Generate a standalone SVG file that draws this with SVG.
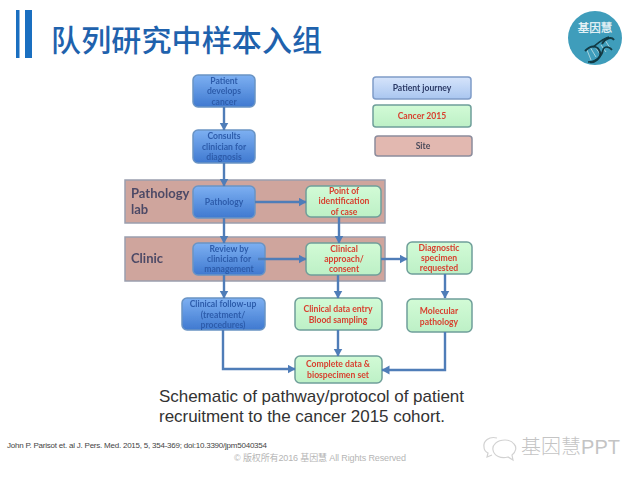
<svg xmlns="http://www.w3.org/2000/svg" width="640" height="480" viewBox="0 0 640 480">
<style>
text{font-family:"Liberation Sans","Noto Sans CJK SC",sans-serif}
.d text{font-family:"Lato","Noto Sans",sans-serif;font-size:8.6px;font-weight:700;text-anchor:middle}
.d .lab{font-size:13px;text-anchor:start;fill:#4d4a66}
.bt{fill:#2d5cab}.rt{fill:#d8402f}
.b{fill:url(#gb);stroke:#6a94c4;stroke-width:1.5}
.g{fill:url(#gg);stroke:#6f9f9a;stroke-width:1.5}
.band{fill:#cfa59d;stroke:#9a9fae;stroke-width:1.5}
.lk{fill:none;stroke:#4f7db8;stroke-width:2.4;marker-end:url(#ah)}
</style>
<defs>
<linearGradient id="gb" x1="0" y1="0" x2="0" y2="1"><stop offset="0" stop-color="#7db0f2"/><stop offset="1" stop-color="#3f79d0"/></linearGradient>
<linearGradient id="gg" x1="0" y1="0" x2="0" y2="1"><stop offset="0" stop-color="#d2fbd6"/><stop offset="1" stop-color="#bdf0c6"/></linearGradient>
<linearGradient id="gl" x1="0" y1="0" x2="0" y2="1"><stop offset="0" stop-color="#d6e4fb"/><stop offset="1" stop-color="#a9c6f0"/></linearGradient>
<marker id="ah" markerUnits="userSpaceOnUse" markerWidth="10" markerHeight="10" refX="7.5" refY="4.5" orient="auto"><path d="M0 0L8 4.5L0 9Z" fill="#4f7db8"/></marker>
<filter id="s" x="-5%" y="-5%" width="110%" height="110%"><feGaussianBlur stdDeviation="0.4"/></filter>
</defs>
<rect width="640" height="480" fill="#fff"/>
<g id="title">
<rect x="16" y="10" width="3.5" height="48" fill="#1a6fc0"/>
<rect x="25" y="10" width="7" height="48" fill="#1a6fc0"/>
<text x="51" y="51" font-size="30" font-weight="500" fill="#1f62ad" textLength="271" lengthAdjust="spacing">队列研究中样本入组</text>
</g>
<g id="logo">
<circle cx="595" cy="38" r="27" fill="#3f9dbb"/>
<text x="595" y="32" font-size="11.5" fill="#eef7fa" text-anchor="middle" stroke="#eef7fa" stroke-width=".25">基因慧</text>
<g fill="none" filter="url(#s)">
<path d="M587 50L591 60M590 47L596 57M594 45L600 54M601 45L606 52M605 40L610 48" stroke="#a9d3dc" stroke-width="1"/>
<path d="M585 51C592 44 598 46 600 52C602 58 594 63 590 62M602 44C606 37 612 37 614 40" stroke="#123a44" stroke-width="2"/>
<path d="M588 62C596 62 602 56 603 50C604 46 609 46 612 50M593 47C598 43 604 38 609 37" stroke="#123a44" stroke-width="1.6"/>
</g>
</g>
<g class="d" filter="url(#s)">
<g id="band-pathology"><rect class="band" x="125" y="180" width="260" height="43"/><text class="lab" x="131" y="198">Pathology</text><text class="lab" x="131" y="214">lab</text></g>
<g id="band-clinic"><rect class="band" x="125" y="237" width="260" height="44"/><text class="lab" x="131" y="263">Clinic</text></g>
<g id="n-patient"><rect class="b" x="193" y="75" width="62" height="32" rx="5"/><text class="bt" x="224" y="84">Patient</text><text class="bt" x="224" y="94">develops</text><text class="bt" x="224" y="105">cancer</text></g>
<g id="n-consults"><rect class="b" x="193" y="130" width="62" height="33" rx="5"/><text class="bt" x="224" y="139">Consults</text><text class="bt" x="224" y="150">clinician for</text><text class="bt" x="224" y="160">diagnosis</text></g>
<g id="n-pathology"><rect class="b" x="193" y="186" width="62" height="32" rx="5"/><text class="bt" x="224" y="205">Pathology</text></g>
<g id="n-point"><rect class="g" x="306" y="186" width="75" height="31" rx="5"/><text class="rt" x="344" y="194">Point of</text><text class="rt" x="344" y="204">identification</text><text class="rt" x="344" y="215">of case</text></g>
<g id="n-review"><rect class="b" x="193" y="243" width="72" height="32" rx="5"/><text class="bt" x="229" y="252">Review by</text><text class="bt" x="229" y="262">clinician for</text><text class="bt" x="229" y="272">management</text></g>
<g id="n-approach"><rect class="g" x="306" y="243" width="75" height="32" rx="5"/><text class="rt" x="344" y="252">Clinical</text><text class="rt" x="344" y="262">approach/</text><text class="rt" x="344" y="272">consent</text></g>
<g id="n-diagnostic"><rect class="g" x="407" y="242" width="65" height="32" rx="5"/><text class="rt" x="439" y="251">Diagnostic</text><text class="rt" x="439" y="261">specimen</text><text class="rt" x="439" y="271">requested</text></g>
<g id="n-followup"><rect class="b" x="182" y="298" width="83" height="32" rx="5"/><text class="bt" x="223" y="307">Clinical follow-up</text><text class="bt" x="223" y="318">(treatment/</text><text class="bt" x="223" y="328">procedures)</text></g>
<g id="n-dataentry"><rect class="g" x="295" y="298" width="87" height="32" rx="5"/><text class="rt" x="338" y="312">Clinical data entry</text><text class="rt" x="338" y="323">Blood sampling</text></g>
<g id="n-molecular"><rect class="g" x="407" y="299" width="65" height="33" rx="5"/><text class="rt" x="439" y="314">Molecular</text><text class="rt" x="439" y="325">pathology</text></g>
<g id="n-complete"><rect class="g" x="295" y="356" width="87" height="27" rx="5"/><text class="rt" x="338" y="367">Complete data &amp;</text><text class="rt" x="338" y="378">biospecimen set</text></g>
<g id="legend-journey"><rect x="373" y="77" width="98" height="22" rx="3" fill="url(#gl)" stroke="#7f9cc8" stroke-width="1.5"/><text x="422" y="91" style="fill:#2c3a66">Patient journey</text></g>
<g id="legend-cancer"><rect class="g" x="373" y="105" width="98" height="22" rx="3"/><text class="rt" x="422" y="119">Cancer 2015</text></g>
<g id="legend-site"><rect x="375" y="136" width="97" height="20" rx="3" fill="#e2b8b0" stroke="#8c8c9c" stroke-width="1.5"/><text x="423" y="149" style="fill:#4a4a5a">Site</text></g>
<g id="connectors">
<path class="lk" d="M224 107V130"/>
<path class="lk" d="M224 163V186"/>
<path class="lk" d="M255 202H306"/>
<path class="lk" d="M224 218V243"/>
<path class="lk" d="M339 217V243"/>
<path class="lk" d="M258 259H306"/>
<path class="lk" d="M381 259H407"/>
<path class="lk" d="M224 275V298"/>
<path class="lk" d="M338 275V298"/>
<path class="lk" d="M338 330V356"/>
<path class="lk" d="M223 330V369H295"/>
<path class="lk" d="M445 274V298"/>
<path class="lk" d="M445 332V370H382"/>
</g>
</g>
<g id="caption" font-size="17" fill="#333">
<text x="159" y="402" textLength="305">Schematic of pathway/protocol of patient</text>
<text x="159" y="422" textLength="286">recruitment to the cancer 2015 cohort.</text>
</g>
<text id="citation" x="7" y="448" font-size="8" fill="#444" textLength="260">John P. Parisot et. al J. Pers. Med. 2015, 5, 354-369; doi:10.3390/jpm5040354</text>
<text id="copyright" x="234" y="461" font-size="9" fill="#b5b5b5" textLength="172">© 版权所有2016 基因慧 All Rights Reserved</text>
<g id="watermark" fill="none" stroke="#d2d2d2" stroke-width="1.2">
<path d="M497 438C489 436 483 441 484 447C484 450 486 452 488 453L487 457L492 455"/>
<path d="M505 440C497 440 492 445 493 450C494 456 501 459 508 457L513 460L512 455C516 452 517 447 514 444C512 441 509 440 505 440Z"/>
<text x="521" y="454" font-size="20" font-weight="300" fill="#c4c4c4" stroke="none" textLength="99">基因慧PPT</text>
</g>
</svg>
